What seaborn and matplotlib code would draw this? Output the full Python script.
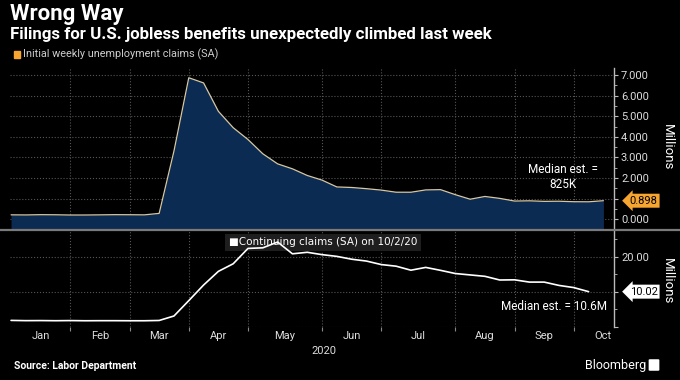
import numpy as np
import pandas as pd
import seaborn as sns
import matplotlib.pyplot as plt
from matplotlib.lines import Line2D
from matplotlib.patches import Rectangle, FancyBboxPatch

# %% data ---------------------------------------------------------------
weeks = pd.date_range('2020-01-03', periods=41, freq='7D')  # Friday-dated weeks

# initial weekly jobless claims (SA), millions
initial_claims = [0.212, 0.207, 0.220, 0.215, 0.203, 0.204, 0.211, 0.220, 0.217, 0.211,
                  0.282, 3.307, 6.867, 6.615, 5.237, 4.442, 3.867, 3.176, 2.687, 2.446,
                  2.123, 1.897, 1.566, 1.540, 1.482, 1.413, 1.310, 1.309, 1.422, 1.435,
                  1.191, 0.971, 1.104, 1.011, 0.881, 0.893, 0.866, 0.873, 0.849, 0.845,
                  0.898]

# continuing claims (SA), millions -- one week behind
continuing_claims = [1.80, 1.73, 1.75, 1.71, 1.75, 1.70, 1.72, 1.72, 1.70, 1.70,
                     1.78, 3.06, 7.45, 11.91, 15.82, 17.99, 22.38, 22.55, 24.2, 20.84,
                     21.27, 20.60, 20.10, 19.29, 18.76, 17.76, 17.30, 16.15, 16.95, 16.11,
                     15.20, 14.80, 14.40, 13.35, 13.40, 12.75, 12.75, 11.80, 11.18, 10.02]

month_labels = ['Jan', 'Feb', 'Mar', 'Apr', 'May', 'Jun', 'Jul', 'Aug', 'Sep', 'Oct']
# bloomberg draws month dividers at the last weekly point of each month
month_bounds = pd.to_datetime(['2020-01-03', '2020-01-31', '2020-02-28', '2020-03-27',
                               '2020-04-24', '2020-05-29', '2020-06-26', '2020-07-31',
                               '2020-08-28', '2020-09-25', '2020-10-23'])

last_initial = 0.898
last_continuing = 10.02

df_init = pd.DataFrame({'week': weeks, 'claims': initial_claims})
df_cont = pd.DataFrame({'week': weeks[:len(continuing_claims)], 'claims': continuing_claims})

# %% style --------------------------------------------------------------
sns.set_theme(style='dark', rc={'axes.facecolor': 'black', 'figure.facecolor': 'black',
                                'grid.color': '#555555', 'grid.linestyle': ':',
                                'grid.linewidth': 0.8, 'text.color': 'white',
                                'xtick.color': '#bbbbbb', 'ytick.color': '#bbbbbb',
                                'xtick.labelcolor': '#dddddd', 'ytick.labelcolor': '#dddddd',
                                'axes.edgecolor': '#bbbbbb'})
plt.rcParams['font.family'] = ['Roboto', 'DejaVu Sans']

W, H = 680, 380
fig = plt.figure(figsize=(6.8, 3.8), dpi=100)


def px(x0, y0, x1, y1):
    # pixel box -> figure fraction rect
    return [x0 / W, 1 - y1 / H, (x1 - x0) / W, (y1 - y0) / H]


ax1 = fig.add_axes(px(10, 68, 614, 229.3))
ax2 = fig.add_axes(px(10, 230.5, 614, 326.7))

mids = month_bounds[:-1] + (month_bounds[1:] - month_bounds[:-1]) / 2
xlim = (pd.Timestamp('2020-01-02 12:00'), pd.Timestamp('2020-10-14'))

for ax in (ax1, ax2):
    ax.set_xlim(xlim)
    ax.set_xticks(mids)
    ax.set_xticks(month_bounds[1:-1], minor=True)
    ax.grid(which='minor', axis='x')
    ax.grid(which='major', axis='y')
    ax.yaxis.tick_right()
    for s in ['left', 'top', 'bottom']:
        ax.spines[s].set_visible(False)
    ax.spines['right'].set_linewidth(1.0)
    ax.tick_params(axis='y', which='major', direction='out', length=3, width=0.8,
                   labelsize=8, pad=2)
    ax.tick_params(axis='y', which='minor', direction='out', length=2, width=0.6, right=True)

# top panel: initial claims
ax1.fill_between(df_init['week'], df_init['claims'], -1, color='#0c2b53', lw=0, zorder=1)
sns.lineplot(data=df_init, x='week', y='claims', ax=ax1, color='#d6c8a2', lw=0.9, zorder=3)
ax1.set_ylim(-0.49, 7.34)
ax1.set_yticks(range(0, 8))
ax1.set_yticklabels(['' if v == 1 else f'{v:.3f}' for v in range(0, 8)])
ax1.set_yticks(np.arange(0.5, 7.5, 1.0), minor=True)
ax1.tick_params(axis='x', which='both', length=0, labelbottom=False)
ax1.set_xlabel('')
ax1.set_ylabel('')

# bottom panel: continuing claims
sns.lineplot(data=df_cont, x='week', y='claims', ax=ax2, color='white', lw=1.2, zorder=3)
ax2.set_ylim(0, 27.5)
ax2.set_yticks([0, 10, 20])
ax2.set_yticklabels(['', '', '20.00'])
ax2.set_yticks([5, 15, 25], minor=True)
ax2.tick_params(axis='x', which='major', length=0, labelsize=8, pad=3)
ax2.tick_params(axis='x', which='minor', length=3, width=0.8, bottom=True, color='#888888')
ax2.set_xticklabels(month_labels)
ax2.set_xlabel('')
ax2.set_ylabel('')

# separator between panels
fig.add_artist(Line2D([0, 1], [1 - 229.8 / H] * 2, color='#7a7a7a', lw=1.6))

# value tags on the axis
ytr1 = ax1.get_yaxis_transform()
ax1.text(1.026, last_initial, f'{last_initial:.3f}', transform=ytr1, ha='left', va='center',
         fontsize=8, color='black', zorder=5, clip_on=False,
         bbox=dict(boxstyle='larrow,pad=0.18', fc='#f6a530', ec='none'))
ytr2 = ax2.get_yaxis_transform()
ax2.text(1.026, last_continuing, f'{last_continuing:.2f}', transform=ytr2, ha='left',
         va='center', fontsize=8, color='black', zorder=5, clip_on=False,
         bbox=dict(boxstyle='larrow,pad=0.18', fc='white', ec='none'))

# annotations
ax1.text(0.916, 2.05, 'Median est. =\n825K', transform=ax1.get_yaxis_transform(),
         ha='center', va='center', fontsize=8.5, color='white', linespacing=1.15)
ax2.text(0.988, 5.9, 'Median est. = 10.6M', transform=ax2.get_yaxis_transform(),
         ha='right', va='center', fontsize=8.5, color='white')
ax2.text(0.362, 24.1, '\u25a0Continuing claims (SA) on 10/2/20', transform=ax2.get_yaxis_transform(),
         ha='left', va='center', fontsize=7.5, color='white', zorder=2,
         family=['DejaVu Sans'],
         bbox=dict(boxstyle='square,pad=0.35', fc='#1e1e1e', ec='none'))

for yc in (147, 281):
    fig.text(667 / W, 1 - yc / H, 'Millions', rotation=270, ha='center', va='center',
             fontsize=9.5, color='white')

# titles / legend / footer
fig.text(10 / W, 1 - 14 / H, 'Wrong Way', fontsize=16, fontweight='bold', color='white',
         ha='left', va='center')
fig.text(10 / W, 1 - 34 / H, 'Filings for U.S. jobless benefits unexpectedly climbed last week',
         fontsize=12.2, fontweight='bold', color='white', ha='left', va='center')
fig.add_artist(Rectangle((14 / W, 1 - 57.5 / H), 6 / W, 7 / H, transform=fig.transFigure,
                         color='#f6a530'))
fig.text(23 / W, 1 - 54 / H, 'Initial weekly unemployment claims (SA)', fontsize=7.8,
         color='#cccccc', ha='left', va='center')
fig.text(324 / W, 1 - 351 / H, '2020', fontsize=8, color='#dddddd', ha='center', va='center')
fig.text(14 / W, 1 - 366 / H, 'Source: Labor Department', fontsize=7.5, fontweight='bold',
         color='white', ha='left', va='center')
fig.text(646 / W, 1 - 365 / H, 'Bloomberg', fontsize=9, color='white', ha='right',
         va='center')
fig.add_artist(FancyBboxPatch((650 / W, 1 - 370 / H), 8 / W, 10 / H, transform=fig.transFigure,
                              boxstyle='round,pad=0.002', fc='white', ec='none'))

plt.savefig('out.png', dpi=100, facecolor='black')
